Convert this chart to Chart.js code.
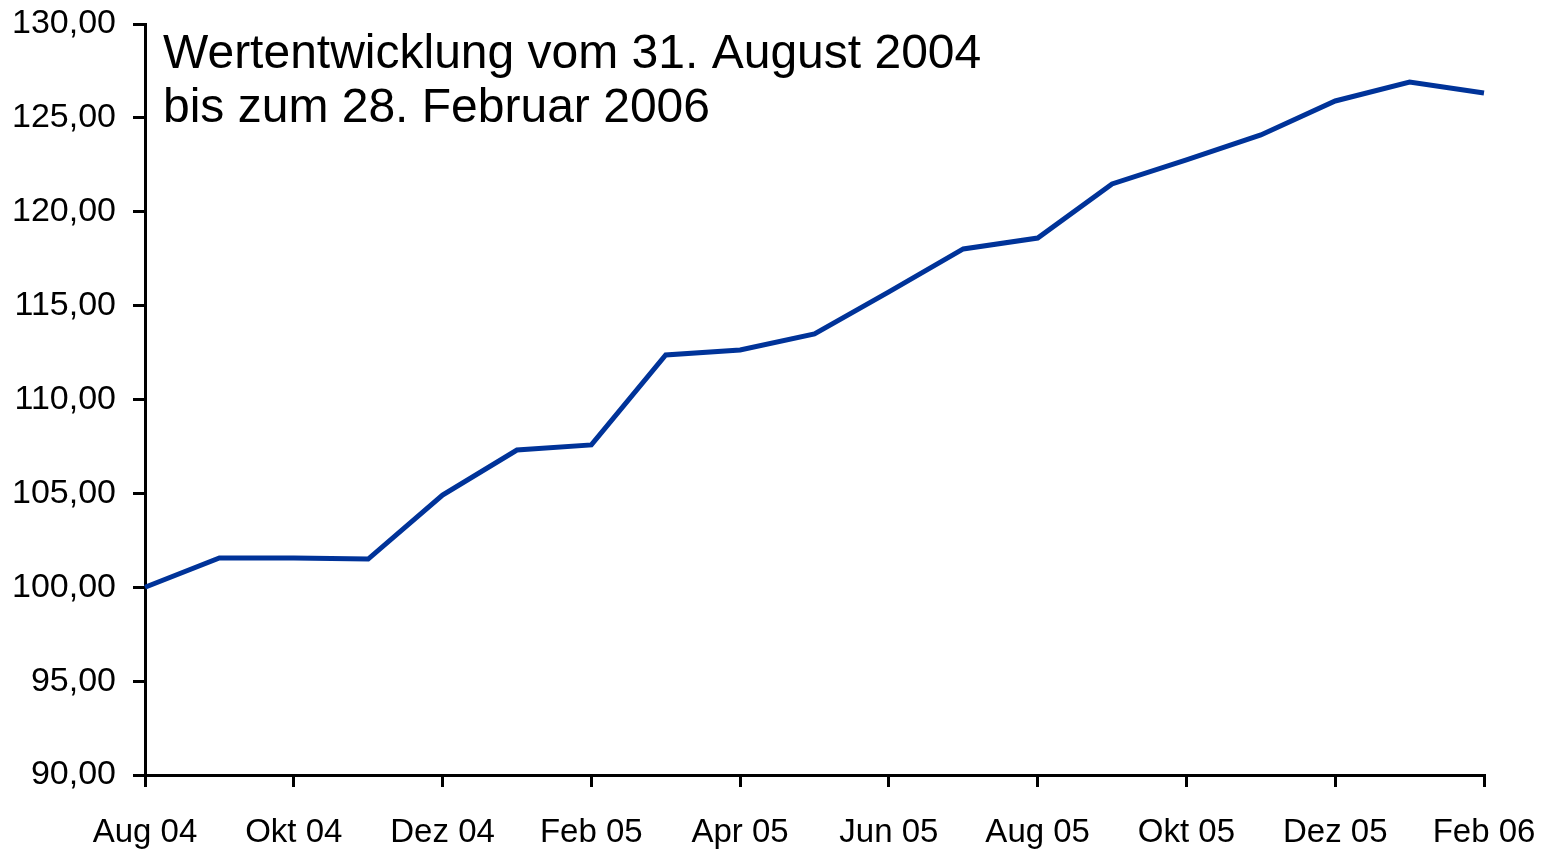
<!DOCTYPE html>
<html>
<head>
<meta charset="utf-8">
<script src="https://cdn.jsdelivr.net/npm/chart.js@4/dist/chart.umd.min.js"></script>
<style>
  html, body { margin: 0; padding: 0; background: #fff; }
  #wrap { position: relative; width: 1554px; height: 849px; }
</style>
</head>
<body>
<div id="wrap"><canvas id="c" width="1554" height="849"></canvas></div>
<script>
const months = ["Aug 04","Sep 04","Okt 04","Nov 04","Dez 04","Jan 05","Feb 05","Mär 05","Apr 05","Mai 05","Jun 05","Jul 05","Aug 05","Sep 05","Okt 05","Nov 05","Dez 05","Jan 06","Feb 06"];
const values = [100.00, 101.56, 101.56, 101.50, 104.91, 107.31, 107.58, 112.37, 112.64, 113.49, 115.73, 118.02, 118.60, 121.48, 122.76, 124.09, 125.90, 126.91, 126.32];
const titleLines = ["Wertentwicklung vom 31. August 2004", "bis zum 28. Februar 2006"];
const yMin = 90, yMax = 130, yStep = 5;

const FONT = "'Liberation Sans', Arial, Helvetica, sans-serif";

const titlePlugin = {
  id: 'innerTitle',
  afterDraw(chart) {
    const ctx = chart.ctx;
    const a = chart.chartArea;
    ctx.save();
    ctx.fillStyle = '#000';
    ctx.font = '48px ' + FONT;
    ctx.textBaseline = 'alphabetic';
    ctx.textAlign = 'left';
    titleLines.forEach((t, i) => ctx.fillText(t, a.left + 18, a.top + 44 + i * 54));
    ctx.restore();
  }
};

new Chart(document.getElementById('c'), {
  type: 'line',
  data: {
    datasets: [{
      data: values.map((v, i) => ({ x: i, y: v })),
      borderColor: '#003399',
      borderWidth: 5,
      pointRadius: 0,
      tension: 0,
      fill: false,
      clip: false
    }]
  },
  options: {
    responsive: false,
    devicePixelRatio: 1,
    animation: false,
    layout: { padding: { left: 0, top: 24, right: 70, bottom: 0 } },
    plugins: { legend: { display: false }, tooltip: { enabled: false }, title: { display: false } },
    scales: {
      x: {
        type: 'linear',
        min: 0,
        max: months.length - 1,
        afterFit(s) { s.height = 74; s.paddingLeft = 0; s.paddingRight = 0; },
        afterBuildTicks(s) { s.ticks = months.map((m, i) => ({ value: i })).filter(t => t.value % 2 === 0); },
        ticks: {
          autoSkip: false,
          maxRotation: 0,
          color: '#000',
          padding: 26,
          font: { family: FONT, size: 33 },
          callback: (v) => months[v]
        },
        grid: { drawOnChartArea: false, drawTicks: true, tickLength: 12, color: '#000', lineWidth: 3 },
        border: { display: true, color: '#000', width: 3 }
      },
      y: {
        min: yMin,
        max: yMax,
        afterFit(s) { s.width = 145; s.paddingTop = 0; s.paddingBottom = 0; },
        ticks: {
          stepSize: yStep,
          color: '#000',
          padding: 17,
          font: { family: FONT, size: 34 },
          callback: (v) => v.toFixed(2).replace('.', ',')
        },
        grid: { drawOnChartArea: false, drawTicks: true, tickLength: 12, color: '#000', lineWidth: 3 },
        border: { display: true, color: '#000', width: 3 }
      }
    }
  },
  plugins: [titlePlugin]
});
</script>
</body>
</html>
